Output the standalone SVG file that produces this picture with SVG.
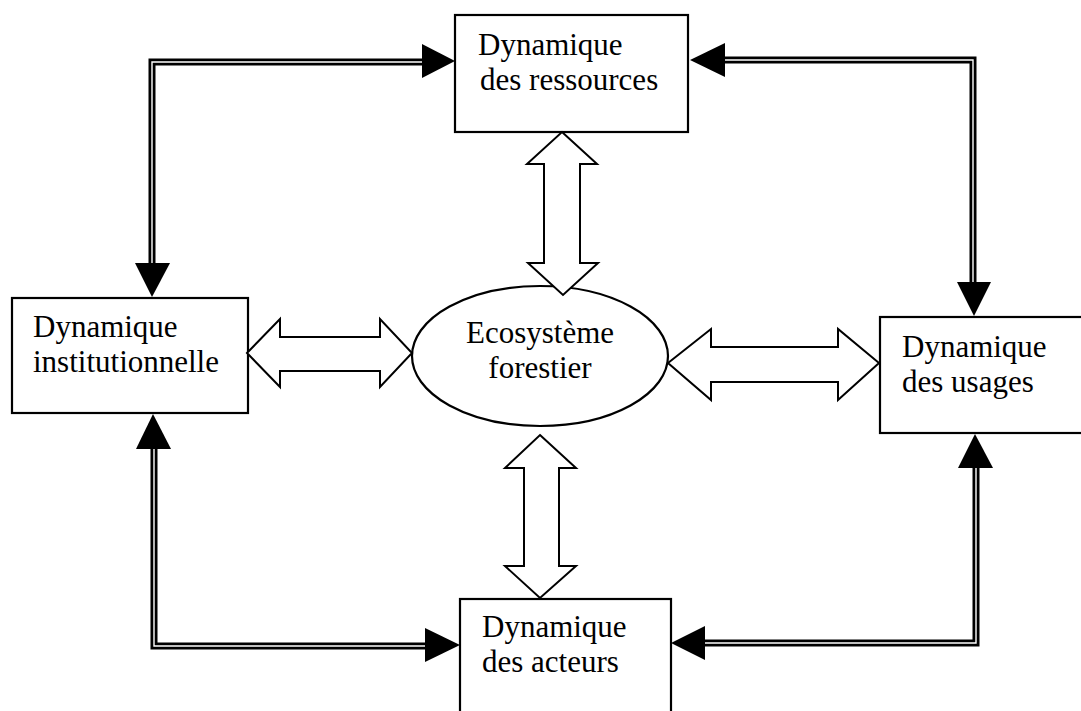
<svg xmlns="http://www.w3.org/2000/svg" width="1081" height="711" viewBox="0 0 1081 711">
<style>
.box{fill:#fff;stroke:#000;stroke-width:2.2}
.hollow{fill:#fff;stroke:#000;stroke-width:2;stroke-linejoin:miter}
.lbl{font-family:"Liberation Serif","Times New Roman",serif;font-size:31px;fill:#000}
.dl-out{fill:none;stroke:#000;stroke-width:7;stroke-linejoin:miter}
.dl-in{fill:none;stroke:#fff;stroke-width:1.4;stroke-linejoin:miter}
.head{fill:#000;stroke:none}
</style>
<rect width="1081" height="711" fill="#fff"/>
<g id="connectors">
  <polyline class="dl-out" points="152,266 152,62 425,62"/>
  <polyline class="dl-in" points="152,266 152,62 425,62"/>
  <polygon class="head" points="455,61 422,44 422,78"/>
  <polygon class="head" points="152,297 135,263 170,263"/>
  <polyline class="dl-out" points="722,60 973,60 973,285"/>
  <polyline class="dl-in" points="722,60 973,60 973,285"/>
  <polygon class="head" points="690,60 725,43 725,77"/>
  <polygon class="head" points="974,316 957,282 991,282"/>
  <polyline class="dl-out" points="154,446 154,646 428,646"/>
  <polyline class="dl-in" points="154,446 154,646 428,646"/>
  <polygon class="head" points="153,414 136,449 171,449"/>
  <polygon class="head" points="460,645 425,628 425,662"/>
  <polyline class="dl-out" points="702,643 976,643 976,465"/>
  <polyline class="dl-in" points="702,643 976,643 976,465"/>
  <polygon class="head" points="671,643 705,626 705,660"/>
  <polygon class="head" points="975,434 958,468 993,468"/>
</g>
<g id="node-ressources">
  <rect class="box" x="455" y="15" width="233" height="117"/>
  <text class="lbl" x="478" y="55">Dynamique</text>
  <text class="lbl" x="480" y="90">des ressources</text>
</g>
<g id="node-institutionnelle">
  <rect class="box" x="12" y="298" width="236" height="115"/>
  <text class="lbl" x="33" y="337">Dynamique</text>
  <text class="lbl" x="33" y="372">institutionnelle</text>
</g>
<g id="node-usages">
  <rect class="box" x="880" y="317" width="210" height="116"/>
  <text class="lbl" x="902" y="357">Dynamique</text>
  <text class="lbl" x="902" y="392">des usages</text>
</g>
<g id="node-acteurs">
  <rect class="box" x="460" y="599" width="211" height="120"/>
  <text class="lbl" x="482" y="637">Dynamique</text>
  <text class="lbl" x="482" y="672">des acteurs</text>
</g>
<g id="node-ecosysteme">
  <ellipse class="box" cx="540" cy="356" rx="128" ry="70"/>
  <text class="lbl" x="540" y="343" text-anchor="middle">Ecosystème</text>
  <text class="lbl" x="540" y="378" text-anchor="middle">forestier</text>
</g>
<g id="hollow-arrows">
  <polygon class="hollow" points="562,132 597,164 580,164 580,263 598,263 563,295 528,263 544,263 544,164 527,164"/>
  <polygon class="hollow" points="247,353 280,319 280,337 380,337 380,319 412,353 380,387 380,371 280,371 280,387"/>
  <polygon class="hollow" points="668,363 711,329 711,347 838,347 838,329 879,363 838,400 838,382 711,382 711,400"/>
  <polygon class="hollow" points="540,435 576,468 559,468 559,566 576,566 540,598 505,566 524,566 524,468 505,468"/>
</g>
</svg>
